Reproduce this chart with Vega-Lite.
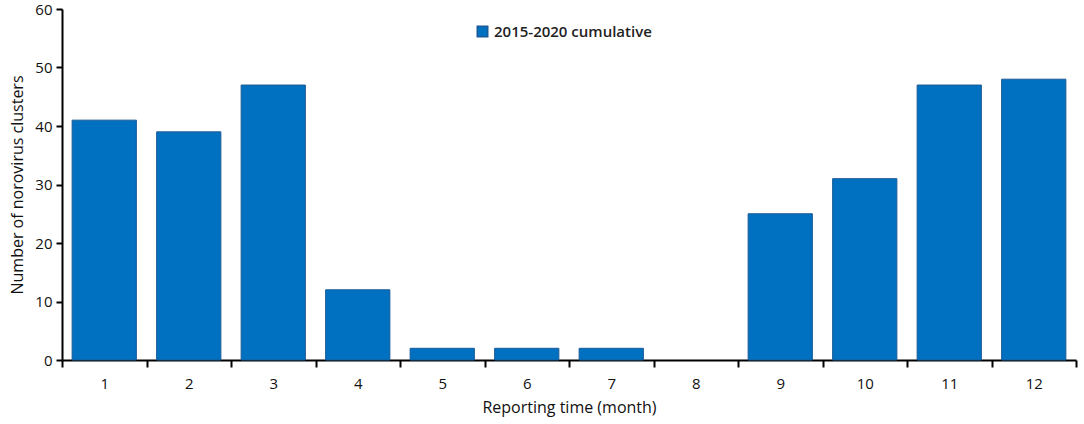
{
  "$schema": "https://vega.github.io/schema/vega-lite/v6.json",
  "autosize": "none",
  "width": 1014,
  "height": 351,
  "padding": {"left": 62, "top": 9, "right": 8, "bottom": 64},
  "background": "white",
  "config": {
    "font": "Open Sans",
    "view": {"stroke": null},
    "axis": {"domainColor": "black", "domainWidth": 2, "tickColor": "black", "tickWidth": 2, "labelColor": "#111", "titleColor": "#111", "grid": false, "labelFontSize": 15, "titleFontSize": 16, "titleFontWeight": "normal", "zindex": 1}
  },
  "data": {"values": [
    {"month": "1", "series": "2015-2020 cumulative", "count": 41},
    {"month": "2", "series": "2015-2020 cumulative", "count": 39},
    {"month": "3", "series": "2015-2020 cumulative", "count": 47},
    {"month": "4", "series": "2015-2020 cumulative", "count": 12},
    {"month": "5", "series": "2015-2020 cumulative", "count": 2},
    {"month": "6", "series": "2015-2020 cumulative", "count": 2},
    {"month": "7", "series": "2015-2020 cumulative", "count": 2},
    {"month": "8", "series": "2015-2020 cumulative", "count": 0},
    {"month": "9", "series": "2015-2020 cumulative", "count": 25},
    {"month": "10", "series": "2015-2020 cumulative", "count": 31},
    {"month": "11", "series": "2015-2020 cumulative", "count": 47},
    {"month": "12", "series": "2015-2020 cumulative", "count": 48}
  ]},
  "mark": {"type": "bar", "stroke": "#1a5a96", "strokeWidth": 1, "width": {"band": 0.76}},
  "encoding": {
    "x": {"field": "month", "type": "ordinal", "sort": null,
      "scale": {"paddingInner": 0, "paddingOuter": 0},
      "axis": {"title": "Reporting time (month)", "labelAngle": 0, "tickBand": "extent", "tickSize": 7, "labelPadding": 9, "titlePadding": 8}},
    "y": {"field": "count", "type": "quantitative",
      "scale": {"domain": [0, 60], "nice": false},
      "axis": {"title": "Number of norovirus clusters", "values": [0, 10, 20, 30, 40, 50, 60], "tickSize": 6, "labelPadding": 4, "titlePadding": 9}},
    "strokeOpacity": {"condition": {"test": "datum.count == 0", "value": 0}, "value": 1},
    "fill": {"field": "series", "type": "nominal",
      "scale": {"range": ["#0070c0"]},
      "legend": {"title": null, "orient": "none", "legendX": 413, "legendY": 15, "symbolType": "square", "symbolSize": 110, "symbolStrokeColor": "#1a5a96", "labelFontSize": 15, "labelFontWeight": 600, "labelColor": "#222"}}
  }
}
